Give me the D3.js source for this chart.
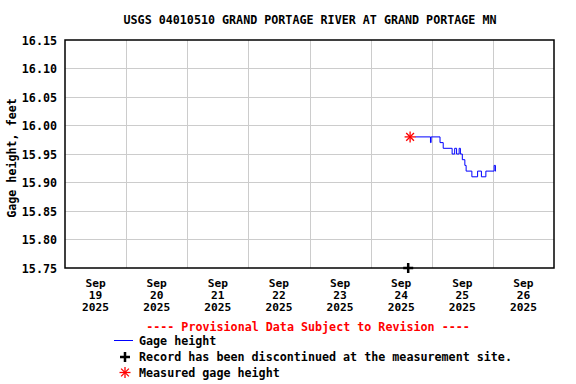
<!DOCTYPE html>
<html>
<head>
<meta charset="utf-8">
<script src="https://cdn.jsdelivr.net/npm/d3@7"></script>
<style>
  body { margin: 0; background: #fff; }
  text { font-family: "DejaVu Sans Mono", monospace; font-weight: bold; font-size: 11.7px; fill: #000; }
  .xlab { font-size: 11.2px; }
</style>
</head>
<body>
<svg id="chart" width="576" height="384"></svg>
<script>
// gage height record (change points, 15-min data)
const gageTimes = [
  "2025-09-24T17:30", "2025-09-24T23:30", "2025-09-24T23:45", "2025-09-25T03:15",
  "2025-09-25T04:30", "2025-09-25T08:00", "2025-09-25T09:00", "2025-09-25T09:45",
  "2025-09-25T10:45", "2025-09-25T11:15", "2025-09-25T12:00", "2025-09-25T13:00",
  "2025-09-25T13:30", "2025-09-25T15:45", "2025-09-25T18:00", "2025-09-25T19:30",
  "2025-09-25T21:15", "2025-09-26T00:30", "2025-09-26T01:00", "2025-09-26T01:15"
];
const gageValues = [
  15.98, 15.97, 15.98, 15.97,
  15.96, 15.95, 15.96, 15.95,
  15.96, 15.95, 15.94, 15.93,
  15.92, 15.91, 15.92, 15.91,
  15.92, 15.93, 15.92, 15.92
];
const measuredTimes = ["2025-09-24T15:30"];
const measuredValues = [15.98];
const discontinuedTimes = ["2025-09-24T14:45"];

const yTicks = [15.75, 15.80, 15.85, 15.90, 15.95, 16.00, 16.05, 16.10, 16.15];
const dayTicks = ["2025-09-19", "2025-09-20", "2025-09-21", "2025-09-22",
                  "2025-09-23", "2025-09-24", "2025-09-25", "2025-09-26", "2025-09-27"];

const parse = d3.timeParse("%Y-%m-%dT%H:%M");
const parseDay = d3.timeParse("%Y-%m-%d");

const svg = d3.select("#chart");
const margin = { left: 65, top: 40, right: 554, bottom: 268 };

const x = d3.scaleTime()
  .domain([parseDay(dayTicks[0]), parseDay(dayTicks[dayTicks.length - 1])])
  .range([margin.left, margin.right]);
const y = d3.scaleLinear()
  .domain([15.75, 16.15])
  .range([margin.bottom, margin.top]);

// title
svg.append("text")
  .attr("x", 310).attr("y", 24)
  .attr("text-anchor", "middle")
  .text("USGS 04010510 GRAND PORTAGE RIVER AT GRAND PORTAGE MN");

// grid
const grid = svg.append("g").attr("stroke", "#cccccc").attr("stroke-width", 1);
grid.selectAll(".hg")
  .data(yTicks.slice(1, -1))
  .join("line")
    .attr("x1", margin.left).attr("x2", margin.right)
    .attr("y1", d => Math.round(y(d)) + 0.5).attr("y2", d => Math.round(y(d)) + 0.5);
grid.selectAll(".vg")
  .data(dayTicks.slice(1, -1).map(parseDay))
  .join("line")
    .attr("y1", margin.top).attr("y2", margin.bottom)
    .attr("x1", d => Math.round(x(d)) + 0.5).attr("x2", d => Math.round(x(d)) + 0.5);

// y axis labels
const yAxis = d3.axisLeft(y).tickValues(yTicks).tickFormat(d3.format(".2f")).tickSize(0).tickPadding(8);
svg.append("g")
  .attr("transform", `translate(${margin.left},0)`)
  .call(yAxis)
  .attr("font-family", null).attr("font-size", null)
  .call(g => g.select(".domain").remove())
  .call(g => g.selectAll("text").attr("dy", "0.35em"));

svg.append("text")
  .attr("transform", "translate(16,158) rotate(-90)")
  .attr("text-anchor", "middle")
  .text("Gage height, feet");

// x axis labels (centered at noon), three stacked lines
const noon = dayTicks.slice(0, -1).map(d => d3.timeHour.offset(parseDay(d), 12));
const xRows = [d3.timeFormat("%b"), d3.timeFormat("%d"), d3.timeFormat("%Y")];
const xl = svg.append("g");
xRows.forEach((fmt, r) => {
  xl.selectAll(".r" + r)
    .data(noon)
    .join("text")
      .attr("class", "xlab r" + r)
      .attr("text-anchor", "middle")
      .attr("x", d => x(d))
      .attr("y", 287 + r * 12)
      .text(fmt);
});

// gage line
const gage = gageTimes.map((t, i) => ({ t: parse(t), v: gageValues[i] }));
const line = d3.line().x(d => x(d.t)).y(d => y(d.v)).curve(d3.curveStepAfter);
svg.append("path")
  .datum(gage)
  .attr("d", line)
  .attr("fill", "none")
  .attr("stroke", "#0000ff")
  .attr("stroke-width", 1);

// plot border
svg.append("rect")
  .attr("x", margin.left).attr("y", margin.top)
  .attr("width", margin.right - margin.left).attr("height", margin.bottom - margin.top)
  .attr("fill", "none").attr("stroke", "#000").attr("stroke-width", 1.5);

// markers
const star = (g, cx, cy, r) => {
  for (let a = 0; a < 4; a++) {
    const ang = a * Math.PI / 4;
    g.append("line")
      .attr("x1", cx - r * Math.cos(ang)).attr("y1", cy - r * Math.sin(ang))
      .attr("x2", cx + r * Math.cos(ang)).attr("y2", cy + r * Math.sin(ang))
      .attr("stroke", "#ff0000").attr("stroke-width", 1.3);
  }
};
const plus = (g, cx, cy, r) => {
  g.append("path")
    .attr("d", `M${cx - r},${cy}H${cx + r}M${cx},${cy - r}V${cy + r}`)
    .attr("stroke", "#000").attr("stroke-width", 2.5);
};

const marks = svg.append("g");
measuredTimes.forEach((t, i) => star(marks, x(parse(t)), y(measuredValues[i]), 5.5));
discontinuedTimes.forEach(t => plus(marks, x(parse(t)), y(15.75), 5));

// legend
svg.append("text")
  .attr("x", 308).attr("y", 331)
  .attr("text-anchor", "middle")
  .style("fill", "#ff0000")
  .text("---- Provisional Data Subject to Revision ----");

const leg = svg.append("g");
leg.append("line")
  .attr("x1", 114).attr("x2", 133).attr("y1", 340.5).attr("y2", 340.5)
  .attr("stroke", "#0000ff").attr("stroke-width", 1);
leg.append("text").attr("x", 139).attr("y", 345).text("Gage height");
plus(leg, 125, 357, 5);
leg.append("text").attr("x", 139).attr("y", 361).text("Record has been discontinued at the measurement site.");
star(leg, 125, 372.5, 5.5);
leg.append("text").attr("x", 139).attr("y", 377).text("Measured gage height");
</script>
</body>
</html>
